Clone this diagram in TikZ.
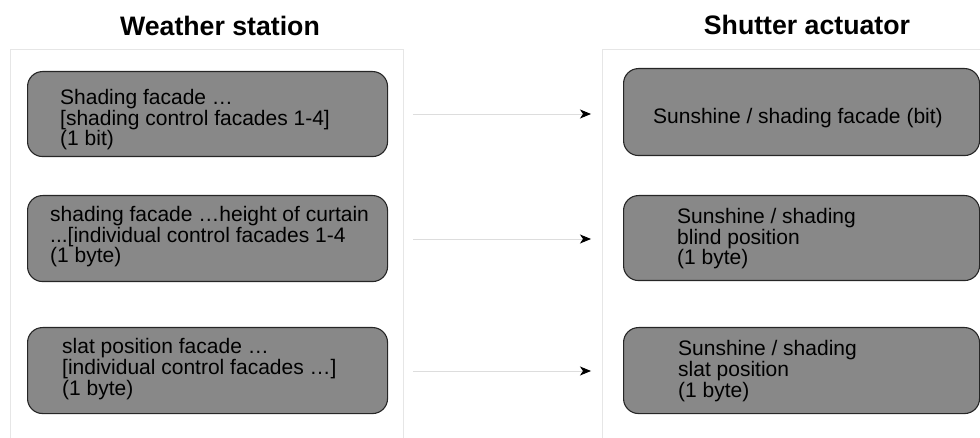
\documentclass[tikz,border=0pt]{standalone}
\usepackage{fontspec}
\setmainfont{Liberation Sans}
\usetikzlibrary{arrows.meta}
\definecolor{boxfill}{HTML}{888888}
\definecolor{boxline}{HTML}{262626}
\definecolor{panel}{HTML}{E6E6E6}
\definecolor{arrowline}{HTML}{DDDDDD}
\begin{document}
\begin{tikzpicture}[x=1pt,y=-1pt,
 box/.style={draw=boxline, fill=boxfill, line width=1.1pt, rounded corners=15pt, anchor=north west, inner sep=0pt},
 boxtext/.style={font=\fontsize{21pt}{20.7pt}\selectfont, align=left, inner sep=0pt, anchor=base west},
 title/.style={font=\fontsize{26.7pt}{30pt}\selectfont\bfseries, inner sep=0pt, anchor=base},
 panelbox/.style={draw=panel, line width=1pt, anchor=north west, inner sep=0pt},
 link/.style={draw=arrowline, line width=0.9pt, -{Stealth[length=11pt,width=9pt,inset=3pt,black]}}]
\useasboundingbox (0,0) rectangle (980,438);
\clip (0,0) rectangle (980,438);
% panels
\node[panelbox, minimum width=393pt, minimum height=420pt] (WS) at (10,49) {};
\node[panelbox, minimum width=400pt, minimum height=420pt] (SA) at (602,49) {};
% titles
\node[title] (T1) at (220,36) {Weather station};
\node[title] (T2) at (807,35) {Shutter actuator};
% left boxes
\node[box, minimum width=360pt, minimum height=85pt] (L1) at (27,71) {};
\node[box, minimum width=360pt, minimum height=86pt] (L2) at (27,195) {};
\node[box, minimum width=360pt, minimum height=86pt] (L3) at (27,327) {};
% right boxes
\node[box, minimum width=356pt, minimum height=87pt] (R1) at (623,68) {};
\node[box, minimum width=356pt, minimum height=85pt] (R2) at (623,195) {};
\node[box, minimum width=356pt, minimum height=86pt] (R3) at (623,327) {};
% texts (anchored at the baseline of the last line)
\node[boxtext] (L1t) at (60,146) {Shading facade …\\{[}shading control facades 1-4{]}\\(1 bit)};
\node[boxtext] (L2t) at (50,263) {shading facade …height of curtain\\...{[}individual control facades 1-4\\(1 byte)};
\node[boxtext] (L3t) at (62,395) {slat position facade …\\{[}individual control facades …{]}\\(1 byte)};
\node[boxtext] (R1t) at (653,124) {Sunshine / shading facade (bit)};
\node[boxtext] (R2t) at (677,265) {Sunshine / shading\\blind position\\(1 byte)};
\node[boxtext] (R3t) at (678,397) {Sunshine / shading\\slat position\\(1 byte)};
% arrows
\coordinate (a1s) at (413,114); \coordinate (a1e) at (591,114);
\coordinate (a2s) at (413,239); \coordinate (a2e) at (591,239);
\coordinate (a3s) at (413,371); \coordinate (a3e) at (591,371);
\draw[link] (a1s) -- (a1e);
\draw[link] (a2s) -- (a2e);
\draw[link] (a3s) -- (a3e);
\end{tikzpicture}
\end{document}
